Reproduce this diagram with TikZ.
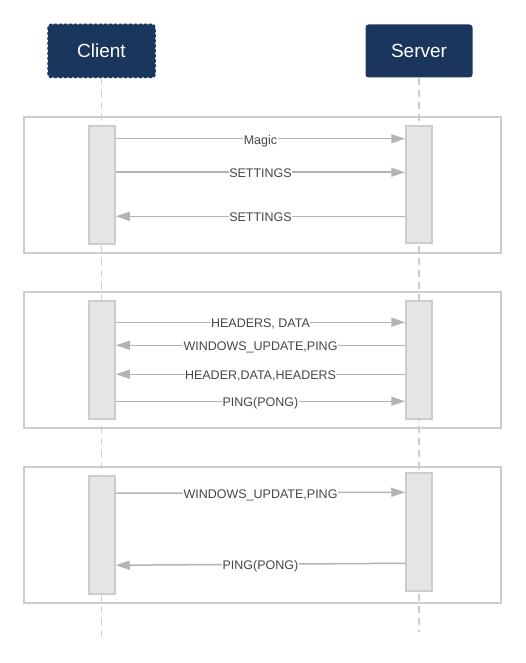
\documentclass[tikz,border=0pt]{standalone}
\usepackage{fontspec}
\setmainfont{Liberation Sans}
\usetikzlibrary{positioning, arrows.meta}
\definecolor{HeadNavy}{HTML}{1B365D}
\definecolor{LineGray}{HTML}{CDCDCD}
\definecolor{ArrGray}{HTML}{B4B4B4}
\definecolor{ActGray}{HTML}{E5E5E5}

\begin{document}
\begin{tikzpicture}[x=1pt, y=-1pt,
  arr/.style={-{Triangle[length=14pt, width=9pt]}, draw=ArrGray, fill=ArrGray, line width=1.5pt},
  head/.style={rectangle, rounded corners=3pt, fill=HeadNavy, text=white,
               font=\fontsize{19}{22}\selectfont, minimum width=107pt, minimum height=53pt},
  act/.style={rectangle, draw=LineGray, fill=ActGray, line width=1.5pt,
              minimum width=26pt, minimum height=118pt, inner sep=0pt},
  frame/.style={draw=LineGray, line width=1.8pt},
  life/.style={draw=LineGray, line width=1.5pt, dash pattern=on 7pt off 5pt},
  lbl/.style={midway, fill=white, inner sep=0.5pt, text=black!72, yshift=-0.8pt,
              text height=9pt, text depth=0pt, font=\fontsize{12.5}{14}\selectfont}
]
\useasboundingbox (0,0) rectangle (526,663);

% participants
\node[head, draw=HeadNavy, densely dashed, line width=1.5pt] (client) at (101.5,51) {Client};
\node[head] (server) at (419,51) {Server};

\coordinate (cend) at (101.5,637);
\coordinate (send) at (419,632);
\draw[life] (client.south) -- (cend);
\draw[life] (server.south) -- (send);

% frames
\draw[frame] (24,117) rectangle (501,253);
\draw[frame] (24,292) rectangle (501,428);
\draw[frame] (24,467) rectangle (501,603);

% activations
\node[act] (c1) at (102,185) {};
\node[act, minimum height=117pt] (s1) at (419,184.5) {};
\node[act] (c2) at (102,360) {};
\node[act] (s2) at (419,360) {};
\node[act] (c3) at (102,535) {};
\node[act] (s3) at (419,532) {};

% connection preface
\draw[arr] ([yshift=-13.5pt]c1.north east) -- node[lbl]{Magic} ([yshift=-13.5pt]s1.north west);
\draw[arr] ([yshift=-47pt]c1.north east) -- node[lbl]{SETTINGS} ([yshift=-47pt]s1.north west);
\draw[arr] ([yshift=-91pt]s1.north west) -- node[lbl]{SETTINGS} ([yshift=-91pt]c1.north east);

% streams
\draw[arr] ([yshift=-22pt]c2.north east) -- node[lbl]{HEADERS, DATA} ([yshift=-22pt]s2.north west);
\draw[arr] ([yshift=-45pt]s2.north west) -- node[lbl]{WINDOWS\_UPDATE,PING} ([yshift=-45pt]c2.north east);
\draw[arr] ([yshift=-74pt]s2.north west) -- node[lbl]{HEADER,DATA,HEADERS} ([yshift=-74pt]c2.north east);
\draw[arr] ([yshift=-101pt]c2.north east) -- node[lbl]{PING(PONG)} ([yshift=-101pt]s2.north west);

% keep alive
\draw[arr] ([yshift=-18pt]c3.north east) -- node[lbl]{WINDOWS\_UPDATE,PING} ([yshift=-20pt]s3.north west);
\draw[arr] ([yshift=-91pt]s3.north west) -- node[lbl]{PING(PONG)} ([yshift=-90pt]c3.north east);
\end{tikzpicture}
\end{document}
